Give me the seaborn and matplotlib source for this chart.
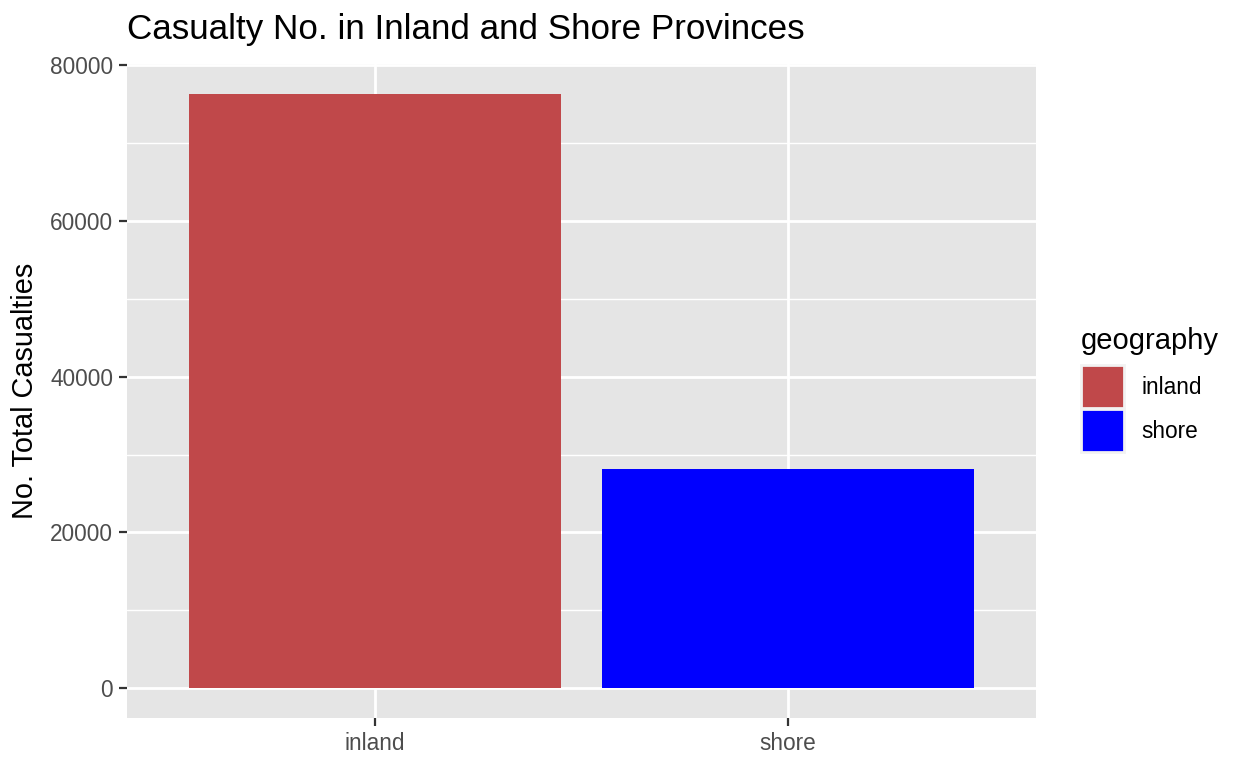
import matplotlib
matplotlib.use("Agg")
import matplotlib.pyplot as plt
from matplotlib.patches import Patch
from matplotlib.ticker import MultipleLocator
import pandas as pd
import seaborn as sns

# values
geography = ["inland", "shore"]
casualties = [76300, 28200]
bar_colors = ["#C0484A", "#0000FF"]

df = pd.DataFrame({"geography": geography, "casualties": casualties})

sns.set_theme(style="darkgrid")
plt.rcParams["font.family"] = ["Liberation Sans", "DejaVu Sans"]

fig = plt.figure(figsize=(12.48, 7.68), dpi=100)
ax = fig.add_axes([127 / 1248, 1 - 718 / 768, (1036 - 127) / 1248, (718 - 64) / 768])
ax.set_facecolor("#E5E5E5")

sns.barplot(data=df, x="geography", y="casualties", hue="geography",
            palette=dict(zip(geography, bar_colors)), width=0.9,
            saturation=1, legend=False, ax=ax, zorder=3, linewidth=0)

ax.set_xlim(-0.6, 1.6)
top = max(casualties)
ax.set_ylim(-0.05 * top, top * 1.05)
ax.yaxis.set_major_locator(MultipleLocator(20000))
ax.yaxis.set_minor_locator(MultipleLocator(10000))
ax.grid(which="major", color="white", linewidth=2.0, zorder=0)
ax.grid(which="minor", axis="y", color="white", linewidth=1.0, zorder=0)
ax.set_axisbelow(True)
for s in ax.spines.values():
    s.set_visible(False)

ax.tick_params(axis="both", which="major", length=6, width=1.6, color="#333333",
               labelcolor="#4D4D4D", labelsize=16.3, pad=4, left=True, bottom=True)
ax.tick_params(axis="y", which="minor", length=0)
ax.set_xticks(range(len(geography)))
ax.set_xticklabels(geography)
ax.set_yticks([0, 20000, 40000, 60000, 80000])
ax.set_yticklabels(["0", "20000", "40000", "60000", "80000"])

ax.set_xlabel("")
ax.set_ylabel("No. Total Casualties", fontsize=20.8, color="black", labelpad=8)
fig.text(127 / 1248, 1 - 30 / 768, "Casualty No. in Inland and Shore Provinces",
         fontsize=25.2, color="black", ha="left", va="center")

handles = [Patch(facecolor=c, edgecolor="#F2F2F2", linewidth=2) for c in bar_colors]
leg = fig.legend(handles, geography, title="geography", loc="upper left",
                 bbox_to_anchor=(1072 / 1248, 1 - 318 / 768), frameon=False,
                 fontsize=16.3, title_fontsize=21, handlelength=1.9,
                 handleheight=2.55, labelspacing=0.05, handletextpad=0.75,
                 borderaxespad=0, labelcolor="black")
leg.get_title().set_color("black")
leg._legend_box.align = "left"
leg._legend_box.sep = 7.3

fig.savefig("out.png", dpi=100, facecolor="white")
